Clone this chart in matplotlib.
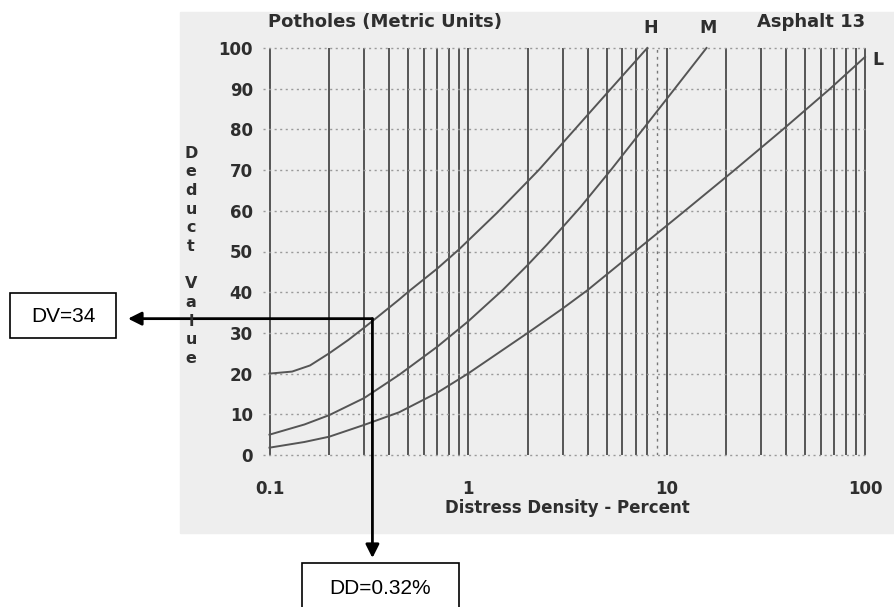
import numpy as np
import matplotlib
matplotlib.use("Agg")
import matplotlib.pyplot as plt
from matplotlib.patches import Rectangle

# deduct value curves (density %, deduct value)
h_dd = [0.1, 0.13, 0.16, 0.2, 0.25, 0.3, 0.35, 0.45, 0.5, 0.7, 0.9, 1.4, 2.27, 3.45, 5.25, 8.0]
h_dv = [20, 20.5, 22, 25, 28.3, 31.3, 33.9, 38.2, 40.1, 45.8, 50.5, 59.5, 70, 80, 90, 100]
m_dd = [0.1, 0.15, 0.2, 0.3, 0.45, 0.7, 1.0, 1.5, 2.0, 2.5, 3.0, 3.7, 5.3, 7.6, 11.0, 15.9]
m_dv = [5.0, 7.5, 9.8, 14.0, 19.7, 26.6, 32.8, 40.6, 46.7, 51.7, 56.0, 61.0, 70.3, 80, 90, 100]
l_dd = [0.1, 0.15, 0.2, 0.3, 0.45, 0.7, 1.0, 2.0, 3.0, 4.0, 6.0, 12.6, 22, 38.6, 66.7, 100]
l_dv = [1.8, 3.2, 4.5, 7.4, 10.5, 15.3, 20.0, 30.0, 36.0, 40.5, 47.5, 60.3, 70, 80, 90, 97.8]

yticks = list(range(0, 101, 10))
xticks = [0.1, 1, 10, 100]
xticklabels = ["0.1", "1", "10", "100"]

dd_read = 0.32
dv_read = 34
arrow_dd = 0.33     # where the reading arrow is drawn
arrow_dv = 33.5

W, H = 894, 607
ink = "#2e2e2e"

fig = plt.figure(figsize=(W / 100, H / 100), dpi=100)
fig.patches.append(Rectangle((180 / W, 1 - 533 / H), (W - 180) / W, (533 - 12) / H,
                             transform=fig.transFigure, color="#eeeeee", zorder=-10))

ax = fig.add_axes([269.5 / W, (H - 455) / H, 595.5 / W, 407 / H])
ax.set_facecolor("none")
ax.set_xscale("log")
ax.set_xlim(0.1, 100)
ax.set_ylim(0, 100)
for s in ax.spines.values():
    s.set_visible(False)

# log paper: solid verticals, dotted horizontals
vx = [m * 10.0 ** d for d in (-1, 0, 1) for m in range(1, 10)] + [100]
for v in vx:
    if abs(v - 9) < 1e-9:
        ax.vlines(v, 0, 100, color="#777777", lw=1.0, ls=(0, (2, 3)), zorder=1)
    else:
        ax.vlines(v, 0, 100, color="#4a4a4a", lw=1.3, zorder=1, clip_on=False)
for t in yticks:
    ax.hlines(t, 0.093, 100, color="#9a9a9a", lw=1.0, ls=(0, (1.5, 2.5)), zorder=1, clip_on=False)

for xs, ys in [(h_dd, h_dv), (m_dd, m_dv), (l_dd, l_dv)]:
    ax.plot(xs, ys, color="#555555", lw=1.4, zorder=2, clip_on=False)

ax.set_yticks(yticks)
ax.set_xticks(xticks, xticklabels)
ax.xaxis.set_minor_locator(matplotlib.ticker.NullLocator())
ax.tick_params(axis="y", length=0, pad=12, labelsize=12, labelcolor=ink)
ax.tick_params(axis="x", length=0, pad=18, labelsize=12, labelcolor=ink)
for lab in ax.get_xticklabels() + ax.get_yticklabels():
    lab.set_fontweight("bold")

fig.text(567 / W, 1 - 508 / H, "Distress Density - Percent", ha="center", va="center",
         fontsize=12, fontweight="bold", color=ink)
fig.text(268 / W, 1 - 22 / H, "Potholes (Metric Units)", ha="left", va="center",
         fontsize=13, fontweight="bold", color=ink)
fig.text(811 / W, 1 - 22 / H, "Asphalt 13", ha="center", va="center",
         fontsize=13, fontweight="bold", color=ink)
fig.text(651 / W, 1 - 28 / H, "H", ha="center", va="center", fontsize=12.5, fontweight="bold", color=ink)
fig.text(708 / W, 1 - 28 / H, "M", ha="center", va="center", fontsize=12.5, fontweight="bold", color=ink)
fig.text(878 / W, 1 - 60 / H, "L", ha="center", va="center", fontsize=12.5, fontweight="bold", color=ink)

# stacked y label
for i, ch in enumerate("Deduct Value"):
    if ch != " ":
        fig.text(191 / W, 1 - (153 + i * 18.7) / H, ch, ha="center", va="center",
                 fontsize=11.5, fontweight="bold", color=ink)

# reading arrows and result boxes
arrow = dict(arrowstyle="-|>", color="black", lw=2.0, mutation_scale=20, shrinkA=0, shrinkB=0)
ax.annotate("", xy=(128, arrow_dv), xycoords=("figure pixels", "data"),
            xytext=(arrow_dd, arrow_dv), textcoords="data", arrowprops=arrow, annotation_clip=False)
ax.annotate("", xy=(arrow_dd, H - 558), xycoords=("data", "figure pixels"),
            xytext=(arrow_dd, arrow_dv), textcoords="data", arrowprops=arrow, annotation_clip=False)

fig.patches.append(Rectangle((10 / W, 1 - 338 / H), 106 / W, 45 / H, transform=fig.transFigure,
                             fill=False, ec="black", lw=1.2))
fig.patches.append(Rectangle((302 / W, 1 - 625 / H), 157 / W, 62 / H, transform=fig.transFigure,
                             fill=False, ec="black", lw=1.2))
fig.text(63 / W, 1 - 316 / H, "DV=%d" % dv_read, ha="center", va="center",
         fontsize=15, family="Liberation Sans", color="black")
fig.text(380 / W, 1 - 588 / H, "DD=%.2f%%" % dd_read, ha="center", va="center",
         fontsize=15, family="Liberation Sans", color="black")

fig.savefig("out.png", dpi=100)
